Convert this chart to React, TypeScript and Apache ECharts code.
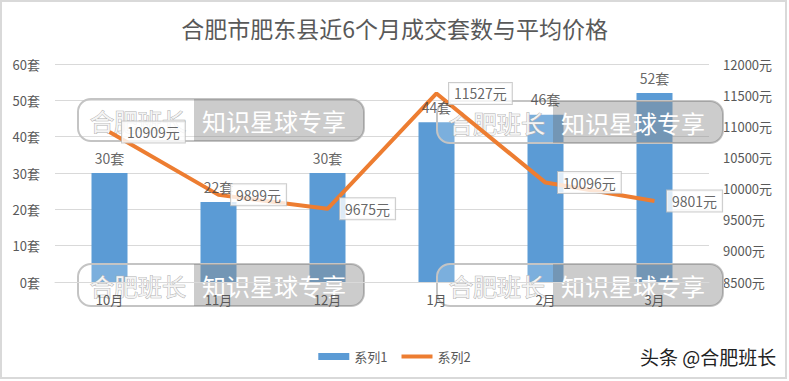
import React, { useEffect, useRef } from "react";
import * as echarts from "echarts";

const categories = ["10月", "11月", "12月", "1月", "2月", "3月"];
const deals = [30, 22, 30, 44, 46, 52];
const prices = [10909, 9899, 9675, 11527, 10096, 9801];
const titleText = "合肥市肥东县近6个月成交套数与平均价格";
const seriesNames = ["系列1", "系列2"];
const watermarkLeft = "合肥班长";
const watermarkRight = "知识星球专享";
const credit = "头条 @合肥班长";

const FONT = '"Noto Sans CJK SC", "Noto Sans", sans-serif';

function watermark(x: number, y: number) {
  return {
    type: "group",
    x,
    y,
    z: 4,
    children: [
      {
        type: "rect",
        z: 4,
        shape: { x: 0, y: 0, width: 286, height: 42, r: 13 },
        style: { fill: "rgba(255,255,255,0.2)", stroke: "#c4c4c4", lineWidth: 2 },
      },
      {
        type: "rect",
        z: 4,
        shape: { x: 116, y: 0, width: 170, height: 42, r: [0, 13, 13, 0] },
        style: { fill: "rgba(100,100,100,0.33)" },
      },
      {
        type: "text",
        z: 4,
        x: 12,
        y: 21,
        style: {
          text: watermarkLeft,
          font: `24px ${FONT}`,
          fill: "#f4f4f4",
          stroke: "#b0b0b0",
          lineWidth: 1,
          verticalAlign: "middle",
        },
      },
      {
        type: "text",
        z: 4,
        x: 124,
        y: 21,
        style: {
          text: watermarkRight,
          font: `24px ${FONT}`,
          fill: "#ffffff",
          verticalAlign: "middle",
        },
      },
    ],
  };
}

export default function App() {
  const ref = useRef<HTMLDivElement>(null);
  useEffect(() => {
    if (!ref.current) return;
    const chart = echarts.init(ref.current, null, { renderer: "svg" });
    chart.setOption({
      animation: false,
      backgroundColor: "#ffffff",
      textStyle: { fontFamily: FONT },
      title: {
        text: titleText,
        left: "center",
        top: 11,
        textStyle: { fontSize: 23, fontWeight: "normal", color: "#595959", fontFamily: FONT },
      },
      grid: { left: 55, right: 80, top: 64, bottom: 99 },
      legend: {
        left: "center",
        top: 345,
        itemWidth: 31,
        itemHeight: 7,
        itemGap: 14,
        textStyle: { fontSize: 13, color: "#595959", fontFamily: FONT },
        data: [
          { name: seriesNames[0], icon: "rect" },
          { name: seriesNames[1], icon: "path://M0,0H31V4H0Z" },
        ],
      },
      xAxis: {
        type: "category",
        data: categories,
        z: 6,
        axisLine: { lineStyle: { color: "#d9d9d9", width: 1 } },
        axisTick: { show: false },
        axisLabel: { fontSize: 13, color: "#595959", margin: 11 },
      },
      yAxis: [
        {
          type: "value",
          min: 0,
          max: 60,
          interval: 10,
          axisLine: { show: false },
          axisTick: { show: false },
          splitLine: { lineStyle: { color: "#d9d9d9" } },
          axisLabel: { formatter: (v: number) => v + "套", fontSize: 13, color: "#595959", margin: 15 },
        },
        {
          type: "value",
          min: 8500,
          max: 12000,
          interval: 500,
          axisLine: { show: false },
          axisTick: { show: false },
          splitLine: { show: false },
          axisLabel: { formatter: (v: number) => v + "元", fontSize: 13, color: "#595959", margin: 14 },
        },
      ],
      series: [
        {
          name: seriesNames[0],
          type: "bar",
          data: deals,
          barWidth: 36,
          z: 2,
          itemStyle: { color: "#5B9BD5" },
        },
        {
          name: "dealLabels",
          type: "scatter",
          data: deals,
          symbolSize: 1,
          itemStyle: { color: "rgba(0,0,0,0)" },
          z: 6,
          label: {
            show: true,
            position: "top",
            distance: 8,
            formatter: "{c}套",
            fontSize: 14,
            color: "#404040",
          },
        },
        {
          name: seriesNames[1],
          type: "line",
          yAxisIndex: 1,
          data: prices,
          symbol: "none",
          z: 5,
          lineStyle: { color: "#ED7D31", width: 4 },
          itemStyle: { color: "#ED7D31" },
        },
        {
          name: "priceLabels",
          type: "scatter",
          yAxisIndex: 1,
          data: prices,
          symbolSize: 1,
          itemStyle: { color: "rgba(0,0,0,0)" },
          z: 7,
          label: {
            show: true,
            position: "right",
            distance: 12,
            formatter: "{c}元",
            fontSize: 14,
            color: "#404040",
            backgroundColor: "#ffffff",
            borderColor: "#bfbfbf",
            borderWidth: 1,
            padding: [4, 5, 3, 5],
          },
        },
      ],
      graphic: [
        watermark(78, 99),
        watermark(437, 101),
        watermark(78, 264),
        watermark(437, 264),
        {
          type: "text",
          x: 640,
          y: 356,
          z: 100,
          style: {
            text: credit,
            font: `19px ${FONT}`,
            fill: "#222222",
            verticalAlign: "middle",
          },
        },
        {
          type: "rect",
          z: 100,
          shape: { x: 1, y: 1, width: 785, height: 377 },
          style: { fill: "none", stroke: "#d9d9d9", lineWidth: 2 },
        },
      ],
    });
    return () => chart.dispose();
  }, []);
  return (
    <div
      ref={ref}
      style={{ position: "fixed", left: 0, top: 0, width: 789, height: 381, background: "#fff" }}
    />
  );
}
